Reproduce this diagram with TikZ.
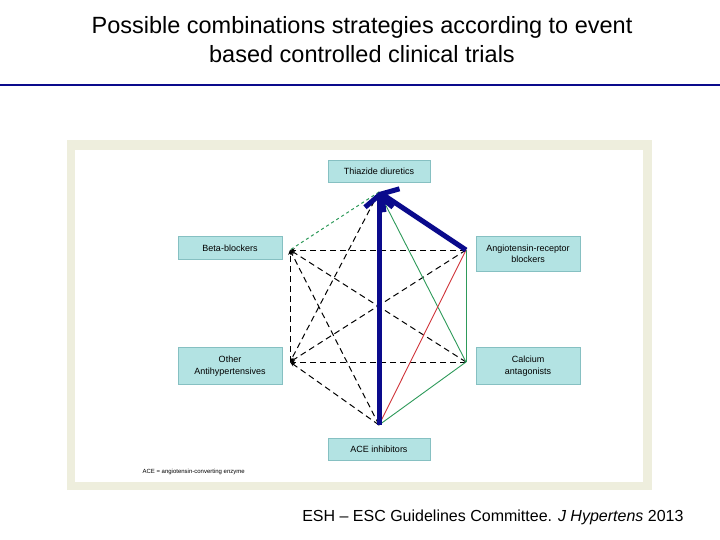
\documentclass[tikz,border=0pt]{standalone}
\usepackage{fontspec}
\setmainfont{Liberation Sans}
\usetikzlibrary{arrows.meta}
\definecolor{boxfill}{HTML}{B3E3E3}
\definecolor{boxline}{HTML}{86C0C2}
\definecolor{navy}{HTML}{0A0A8C}
\definecolor{frame}{HTML}{EEEEDD}
\definecolor{gr}{HTML}{2E9A5A}
\definecolor{rd}{HTML}{D0343A}
\tikzset{
 drug/.style={draw=boxline,fill=boxfill,line width=0.8pt,inner sep=0pt,align=center,font=\fontsize{9}{11.5}\selectfont},
 blk/.style={black,dashed,line width=1pt,dash pattern=on 6pt off 4pt},
 thick arr/.style={navy,line width=5pt,-{Straight Barb[length=12pt,width=28pt]}},
}
\begin{document}
\begin{tikzpicture}[x=1pt,y=-1pt]
\useasboundingbox (0,0) rectangle (720,540);
\fill[white] (0,0) rectangle (720,540);
\node[font=\fontsize{23.5}{29}\selectfont,align=center] (title) at (362,40) {Possible combinations strategies according to event\\based controlled clinical trials};
\draw[navy,line width=2.5pt] (0,85) -- (720,85);
\fill[frame] (67,140) rectangle (652,490);
\fill[white] (75,150) rectangle (643,482);
\node[drug,minimum width=102pt,minimum height=22pt] (td) at (379,171) {Thiazide diuretics};
\node[drug,minimum width=104pt,minimum height=23pt] (bb) at (230,248) {Beta-blockers};
\node[drug,minimum width=104pt,minimum height=35pt] (arb) at (528,254) {Angiotensin-receptor\\blockers};
\node[drug,minimum width=104pt,minimum height=37pt] (oa) at (230,366) {Other\\Antihypertensives};
\node[drug,minimum width=104pt,minimum height=37pt] (ca) at (528,366) {Calcium\\antagonists};
\node[drug,minimum width=102pt,minimum height=22pt] (ace) at (379,449) {ACE inhibitors};
\node[font=\fontsize{6}{7}\selectfont,anchor=west] (note) at (139,472) {ACE = angiotensin-converting enzyme};
\coordinate (T) at (379,192);
\coordinate (B) at (290,250);
\coordinate (R) at (466,250);
\coordinate (O) at (290,362);
\coordinate (C) at (466,362);
\coordinate (A) at (379,425);
\draw[blk,-{Stealth[length=5pt]}] (R) -- (B);
\draw[blk,-{Stealth[length=5pt]}] (C) -- (B);
\draw[blk,-{Stealth[length=5pt]}] (A) -- (B);
\draw[blk,-{Stealth[length=5pt]}] (O) -- (B);
\draw[blk,-{Stealth[length=5pt]}] (T) -- (O);
\draw[blk,-{Stealth[length=5pt]}] (R) -- (O);
\draw[blk,-{Stealth[length=5pt]}] (C) -- (O);
\draw[blk,-{Stealth[length=5pt]}] (A) -- (O);
\draw[gr,dashed,line width=1pt] (T) -- (B);
\draw[gr,line width=0.9pt] (T) -- (C);
\draw[gr,line width=0.9pt] (R) -- (C);
\draw[gr,line width=0.9pt] (C) -- (A);
\draw[rd,line width=0.9pt] (R) -- (A);
\draw[thick arr] (A) -- (T);
\draw[thick arr] (R) -- (T);
\node[anchor=east,font=\fontsize{16}{18}\selectfont] (ref) at (687,517) {ESH – ESC Guidelines Committee. \textit{J Hypertens} 2013};
\end{tikzpicture}
\end{document}
